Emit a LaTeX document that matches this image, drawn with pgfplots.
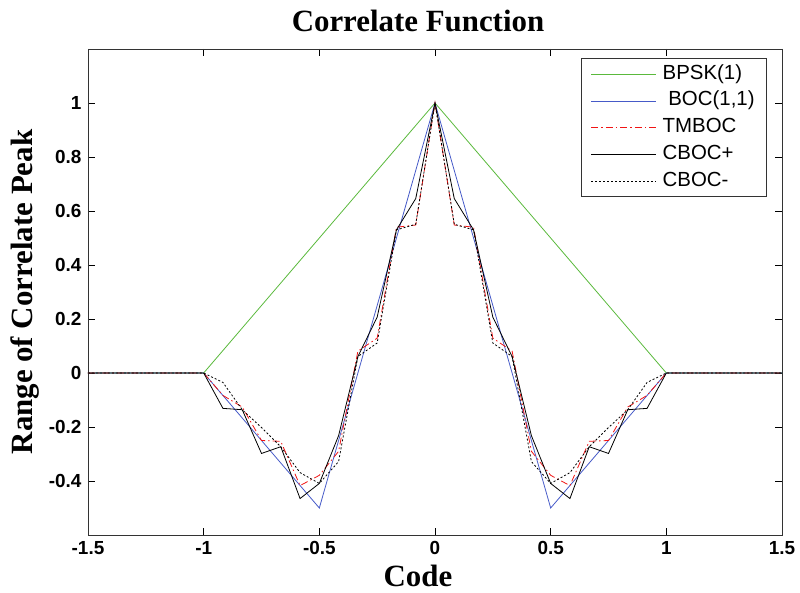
\documentclass[border=0pt]{standalone}
\usepackage{fontspec}
\setmainfont{Liberation Serif}
\setsansfont{Liberation Sans}
\usepackage{pgfplots}
\pgfplotsset{compat=1.18}
\definecolor{bpskgreen}{RGB}{90,185,60}
\definecolor{bocblue}{RGB}{70,90,200}
\definecolor{tmred}{RGB}{240,20,20}
\begin{document}
\begin{tikzpicture}
\begin{axis}[
  scale only axis,
  width=694bp, height=486bp,
  xmin=-1.5, xmax=1.5, ymin=-0.6, ymax=1.2,
  xtick={-1.5,-1,-0.5,0,0.5,1,1.5},
  ytick={-0.4,-0.2,0,0.2,0.4,0.6,0.8,1},
  major tick length=7bp,
  tick style={black, line width=0.6bp},
  axis line style={black!80, line width=0.8bp},
  /pgf/number format/assume math mode=true,
  tick label style={font=\sffamily\bfseries\fontsize{19}{22}\selectfont},
  x tick label style={yshift=-3bp},
  y tick label style={xshift=-3bp},
  title={Correlate Function},
  title style={font=\bfseries\fontsize{31}{36}\selectfont, at={(axis description cs:0.4755,1.024)}, anchor=base},
  xlabel={Code},
  xlabel style={font=\bfseries\fontsize{31}{36}\selectfont, at={(axis description cs:0.4755,-0.105)}, anchor=base},
  ylabel={Range of Correlate Peak},
  ylabel style={font=\bfseries\fontsize{31}{34}\selectfont, at={(axis description cs:-0.0908,0.5)}, anchor=center, rotate=0},
  legend image code/.code={\draw[#1] (0bp,0bp) -- (65bp,0bp);},
  legend cell align=left,
  legend style={at={(axis description cs:0.9784,0.9815)}, anchor=north east,
    draw=black!80, line width=0.8bp, inner xsep=9bp, inner ysep=2.5bp,
    font=\sffamily\fontsize{20.5}{24}\selectfont,
    nodes={text height=14bp, text depth=4bp, inner ysep=4.35bp, inner xsep=3bp},
    column sep=3bp},
]
% BPSK(1)
\addplot[color=bpskgreen, draw=bpskgreen, line width=0.8bp] coordinates {(-1.5,0) (-1,0) (0,1) (1,0) (1.5,0)};
\addlegendentry{BPSK(1)}
% BOC(1,1)
\addplot[color=bocblue, draw=bocblue, line width=0.8bp] coordinates {(-1.5,0) (-1,0) (-0.5,-0.5) (0,1) (0.5,-0.5) (1,0) (1.5,0)};
\addlegendentry{\ BOC(1,1)}
% TMBOC
\addplot[color=tmred, draw=tmred, line width=0.8bp, dash pattern=on 7bp off 3bp on 1.5bp off 3bp] coordinates {
(-1.5,0) (-1,0) (-0.9167,-0.083) (-0.8333,-0.126) (-0.75,-0.250) (-0.6667,-0.253)
(-0.5833,-0.417) (-0.5,-0.379) (-0.4167,-0.290) (-0.3333,0.081) (-0.25,0.129)
(-0.1667,0.540) (-0.0833,0.548) (0,1)
(0.0833,0.548) (0.1667,0.540) (0.25,0.129) (0.3333,0.081) (0.4167,-0.290)
(0.5,-0.379) (0.5833,-0.417) (0.6667,-0.253) (0.75,-0.250) (0.8333,-0.126)
(0.9167,-0.083) (1,0) (1.5,0)};
\addlegendentry{TMBOC}
% CBOC+
\addplot[color=black, draw=black, line width=0.8bp] coordinates {
(-1.5,0) (-1,0) (-0.9167,-0.131) (-0.8333,-0.136) (-0.75,-0.298) (-0.6667,-0.273)
(-0.5833,-0.465) (-0.5,-0.409) (-0.4167,-0.232) (-0.3333,0.061) (-0.25,0.207)
(-0.1667,0.530) (-0.0833,0.646) (0,1)
(0.0833,0.646) (0.1667,0.530) (0.25,0.207) (0.3333,0.061) (0.4167,-0.232)
(0.5,-0.409) (0.5833,-0.465) (0.6667,-0.273) (0.75,-0.298) (0.8333,-0.136)
(0.9167,-0.131) (1,0) (1.5,0)};
\addlegendentry{CBOC+}
% CBOC-
\addplot[color=black, draw=black, line width=0.8bp, dash pattern=on 2bp off 2bp] coordinates {
(-1.5,0) (-1,0) (-0.9167,-0.035) (-0.8333,-0.136) (-0.75,-0.202) (-0.6667,-0.273)
(-0.5833,-0.369) (-0.5,-0.409) (-0.4167,-0.328) (-0.3333,0.061) (-0.25,0.111)
(-0.1667,0.530) (-0.0833,0.551) (0,1)
(0.0833,0.551) (0.1667,0.530) (0.25,0.111) (0.3333,0.061) (0.4167,-0.328)
(0.5,-0.409) (0.5833,-0.369) (0.6667,-0.273) (0.75,-0.202) (0.8333,-0.136)
(0.9167,-0.035) (1,0) (1.5,0)};
\addlegendentry{CBOC-}
\end{axis}
\path (current axis.south west) ++(-88bp,-58bp) coordinate (bbA);
\path (current axis.north east) ++(18bp,49bp) coordinate (bbB);
\path (bbA) rectangle (bbB);
\end{tikzpicture}
\end{document}
